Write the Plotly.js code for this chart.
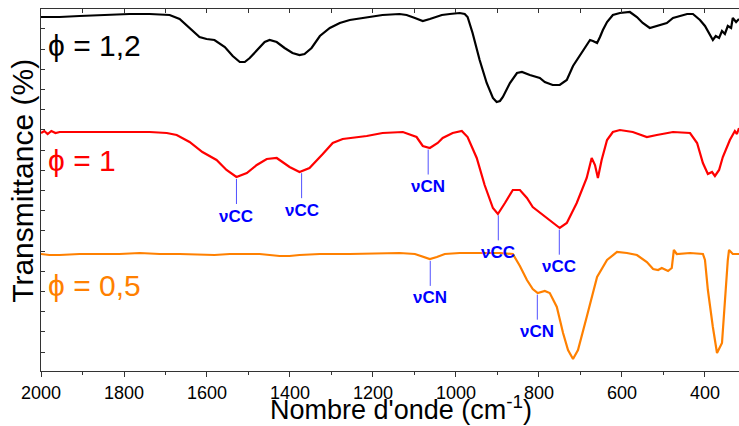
<!DOCTYPE html>
<html>
<head>
<meta charset="utf-8">
<script src="https://cdn.plot.ly/plotly-3.0.1.min.js"></script>
<style>html,body{margin:0;padding:0;background:#fff;}#chart{width:739px;height:426px;}</style>
</head>
<body>
<div id="chart"></div>
<script>
// Wavenumbers (cm-1) and transmittance (arbitrary offset units)
var wnBlack = [2000,1955,1907,1859,1787,1738,1690,1666,1642,1618,1601,1582,1557,1538,1521,1509,1497,1478,1461,1449,1432,1413,1394,1377,1365,1348,1328,1304,1280,1256,1220,1177,1136,1119,1099,1080,1063,1046,1034,1015,991,979,972,960,950,943,926,911,902,894,887,870,853,841,822,798,786,767,750,733,718,709,694,677,670,660,653,646,636,622,605,581,564,550,533,509,492,477,460,443,429,412,400,388,381,374,366,359,352,345,337,333,325,318];
var tBlack = [354,354,355,356,357,357,356,352,343,334,332,331,324,315,309,309,313,322,329,331,329,323,318,316,317,323,335,343,348,351,353,356,357,356,353,350,352,354,356,357,358,357,354,338,321,311,288,273,269,270,274,288,298,299,296,293,289,286,286,291,305,311,321,331,330,328,334,341,349,356,358,359,354,348,343,346,348,353,355,357,357,351,345,336,331,335,333,340,337,345,343,353,349,352];

var wnRed = [2000,1992,1984,1975,1965,1955,1907,1859,1787,1738,1697,1673,1642,1611,1577,1553,1529,1504,1480,1456,1432,1418,1401,1377,1353,1321,1297,1273,1256,1215,1177,1128,1095,1080,1063,1044,1032,1008,986,972,950,931,911,899,882,863,846,829,815,781,750,733,709,685,673,665,658,649,636,622,605,574,540,516,477,436,419,405,393,383,376,366,357,340,328,323,318];
var tRed = [238,240,237,240,238,239,239,239,239,239,238,236,229,219,211,201,194,198,206,212,213,209,204,199,203,217,228,232,233,235,238,239,234,225,223,228,233,238,240,234,213,186,163,157,168,181,181,173,164,153,143,148,168,193,213,206,193,211,231,239,241,239,234,236,239,238,228,208,197,199,195,201,214,231,240,237,243];

var wnOrange = [2000,1980,1955,1907,1859,1811,1762,1714,1666,1618,1582,1545,1473,1425,1401,1377,1328,1256,1184,1136,1099,1075,1063,1046,1027,991,943,894,863,846,829,815,803,786,774,757,742,730,718,706,685,660,636,612,588,564,540,525,513,504,489,480,475,468,436,405,400,393,381,371,359,352,345,342,333,318];
var tOrange = [117,116,116,117,117,117,118,117,117,116,116,117,117,115,115,116,117,117,118,118,117,114,112,114,117,118,118,118,117,105,91,82,78,80,78,64,38,21,12,21,54,94,111,119,118,116,109,102,101,103,100,103,121,117,118,117,111,81,44,18,28,71,111,121,117,117];

var seriesNames = ["\u03d5 = 1,2", "\u03d5 = 1", "\u03d5 = 0,5"];
var seriesColors = ["#000000", "#ff0000", "#ff8000"];
var labelY = [326, 211, 86];

// Band assignments: label, wavenumber, series index
var bandLabels = ["\u03bdCC", "\u03bdCC", "\u03bdCN", "\u03bdCC", "\u03bdCC", "\u03bdCN", "\u03bdCN"];
var bandWn = [1529, 1372, 1067, 898, 751, 1062, 804];
var bandSeries = [1, 1, 1, 1, 1, 2, 2];

var xTicks = [2000,1800,1600,1400,1200,1000,800,600,400];

var wnAll = [wnBlack, wnRed, wnOrange];
var tAll = [tBlack, tRed, tOrange];

function interp(wn, t, x) {
  for (var i = 0; i < wn.length - 1; i++) {
    var a = wn[i], b = wn[i+1];
    if ((x <= a && x >= b) || (x >= a && x <= b)) {
      var f = (x - a) / (b - a);
      return t[i] + f * (t[i+1] - t[i]);
    }
  }
  return t[t.length-1];
}

var FONT = "Arial, 'Liberation Sans', sans-serif";
var traces = [];
for (var s = 0; s < 3; s++) {
  traces.push({x: wnAll[s], y: tAll[s], type: "scatter", mode: "lines", name: seriesNames[s],
    line: {color: seriesColors[s], width: 2.2}, hoverinfo: "skip", showlegend: false});
}
// invisible trace to activate the mirrored top axis
traces.push({x: [2000], y: [0], xaxis: "x2", yaxis: "y", mode: "markers",
  marker: {opacity: 0}, showlegend: false, hoverinfo: "skip"});

var shapes = [];
var annotations = [];
for (var k = 0; k < bandWn.length; k++) {
  var si = bandSeries[k];
  var yc = interp(wnAll[si], tAll[si], bandWn[k]) - 2;
  shapes.push({type: "line", xref: "x", yref: "y", x0: bandWn[k], x1: bandWn[k], y0: yc, y1: yc - 25,
    line: {color: "#5050ff", width: 1}});
  annotations.push({xref: "x", yref: "y", x: bandWn[k], y: yc - 37, text: "<b>" + bandLabels[k] + "</b>",
    showarrow: false, xanchor: "center", yanchor: "middle",
    font: {family: FONT, size: 17, color: "#0000ff"}});
}
for (var s2 = 0; s2 < 3; s2++) {
  annotations.push({xref: "x", yref: "y", x: 1987, y: labelY[s2], text: seriesNames[s2],
    showarrow: false, xanchor: "left", yanchor: "middle",
    font: {family: FONT, size: 30, color: seriesColors[s2]}});
}
// axis titles
annotations.push({xref: "paper", yref: "paper", x: 0.516, y: -0.102, xanchor: "center", yanchor: "middle",
  text: "Nombre d'onde (cm<sup>-1</sup>)", showarrow: false,
  font: {family: FONT, size: 27, color: "#000000"}});
annotations.push({xref: "paper", yref: "paper", x: -0.026, y: 0.525, xanchor: "center", yanchor: "middle",
  textangle: -90, text: "Transmittance (%)", showarrow: false,
  font: {family: FONT, size: 30, color: "#000000"}});

var layout = {
  width: 739, height: 426,
  margin: {l: 41, r: 0, t: 9, b: 55, pad: 0},
  paper_bgcolor: "#ffffff", plot_bgcolor: "#ffffff",
  font: {family: FONT, color: "#000000"},
  showlegend: false,
  xaxis: {range: [2000, 318], showline: true, linecolor: "#333333", linewidth: 1,
    ticks: "outside", ticklen: 5, tickwidth: 1, tickcolor: "#333333",
    tickvals: xTicks, ticktext: xTicks.map(String),
    minor: {dtick: 100, tick0: 0, ticks: "outside", ticklen: 3, tickcolor: "#333333"},
    tickfont: {family: FONT, size: 18, color: "#000000"},
    showgrid: false, zeroline: false},
  xaxis2: {range: [2000, 318], overlaying: "x", side: "top", showline: true, linecolor: "#333333", linewidth: 1,
    ticks: "inside", ticklen: 4, tickcolor: "#333333", dtick: 100, tick0: 0,
    showticklabels: false, showgrid: false, zeroline: false},
  yaxis: {range: [0, 362], showline: true, linecolor: "#333333", linewidth: 1,
    ticks: "inside", ticklen: 4, tickcolor: "#333333", tick0: 19, dtick: 20.2,
    showticklabels: false, showgrid: false, zeroline: false},
  shapes: shapes,
  annotations: annotations
};

Plotly.newPlot("chart", traces, layout, {displayModeBar: false, staticPlot: true});
</script>
</body>
</html>
